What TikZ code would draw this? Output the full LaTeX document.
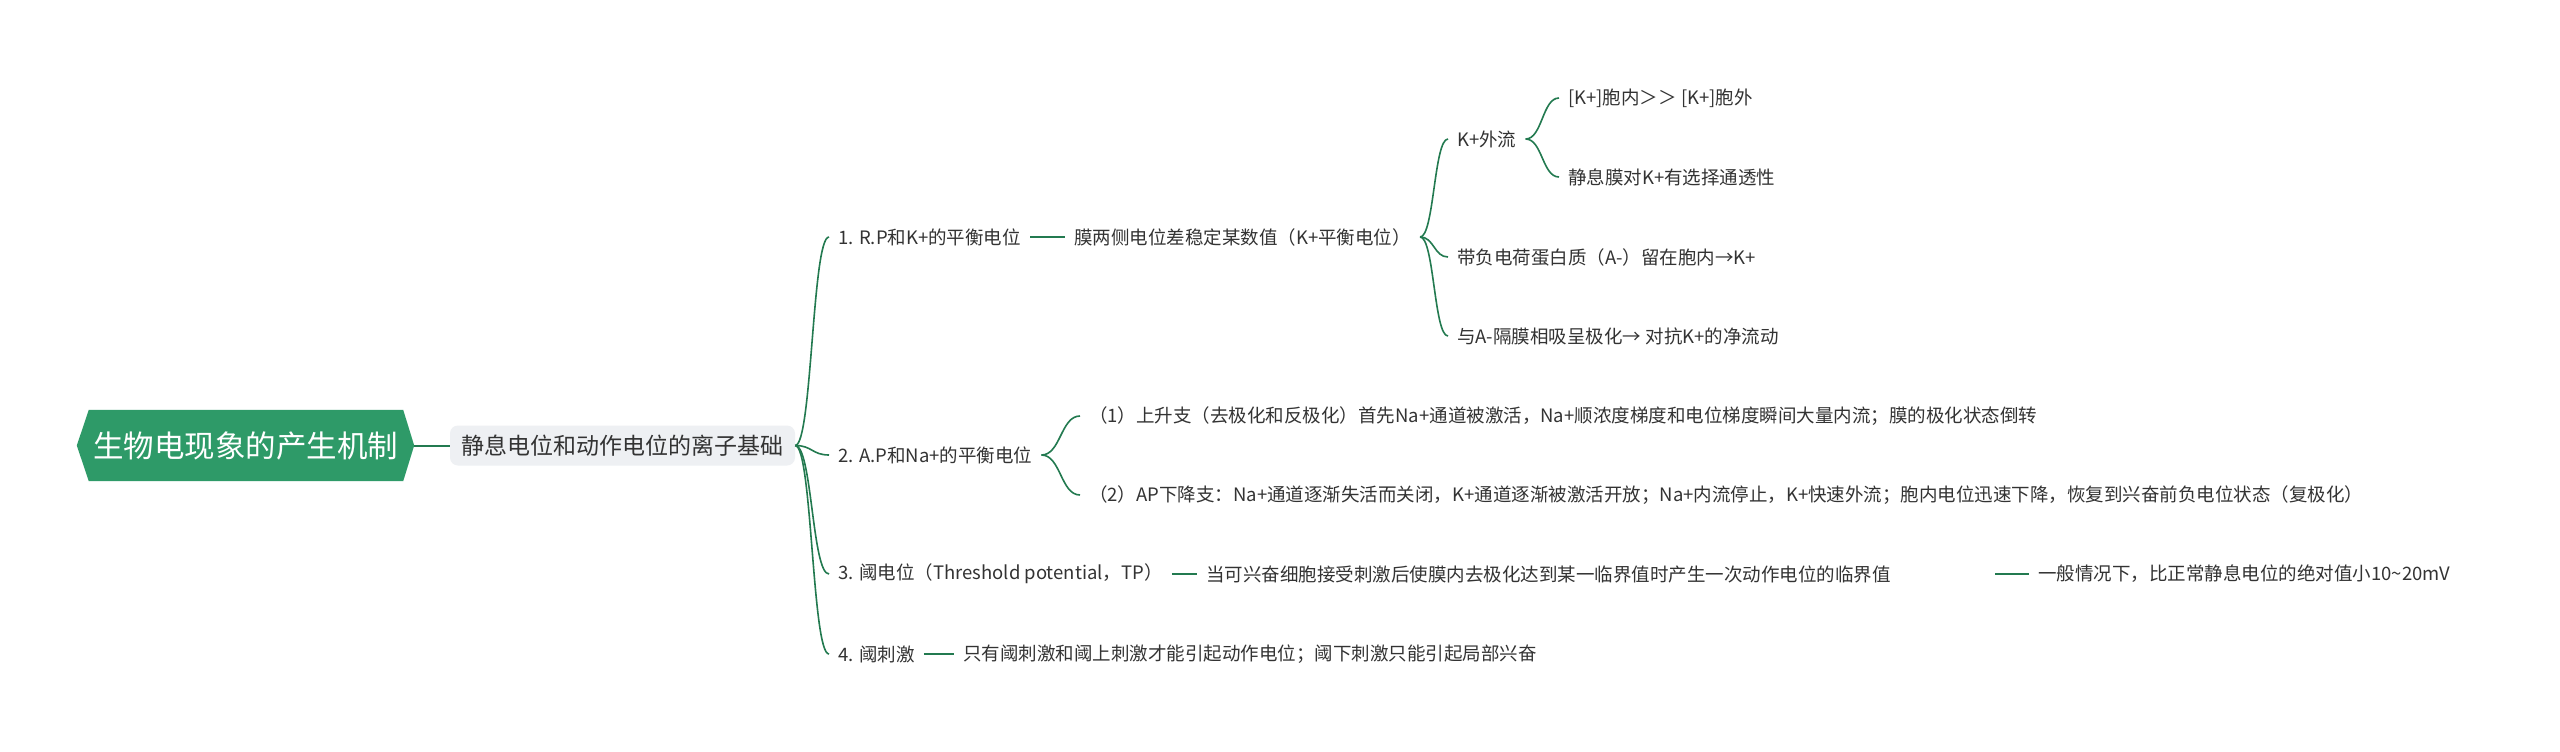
\documentclass[tikz,border=0pt]{standalone}
\usepackage{fontspec}
\newfontfamily\cjk{Noto Sans CJK SC}
\usetikzlibrary{calc,backgrounds}
\definecolor{rootg}{HTML}{2E9A68}
\definecolor{lineg}{HTML}{237A50}
\definecolor{subbg}{HTML}{EEF0F3}
\definecolor{txt}{HTML}{333333}
\newcommand\bcurve[2]{\draw[conn] let \p1=(#1), \p2=(#2) in (\p1) .. controls (0.5*\x1+0.5*\x2,\y1) and (0.5*\x1+0.5*\x2,\y2) .. (\p2);}
\begin{document}
\begin{tikzpicture}[x=1pt,y=-1pt,
  conn/.style={draw=lineg, line width=1.6pt},
  leaf/.style={font=\cjk\fontsize{18.5}{22}\selectfont, text=txt, anchor=west, inner xsep=9pt, inner ysep=2pt},
]
\useasboundingbox (0,0) rectangle (2560,752);

% root
\node[font=\cjk\fontsize{30.5}{36}\selectfont, text=white, minimum width=337pt, minimum height=71pt, inner sep=0pt] (root) at (245.5,445.5) {生物电现象的产生机制};
\begin{pgfonlayer}{background}
\fill[white] (0,0) rectangle (2560,752);
\fill[rootg] (root.west) -- ([xshift=12pt]root.north west) -- ([xshift=-11pt]root.north east) -- (root.east) -- ([xshift=-11pt]root.south east) -- ([xshift=12pt]root.south west) -- cycle;
\end{pgfonlayer}

% sub
\node[fill=subbg, rounded corners=8pt, minimum width=345pt, minimum height=40pt, inner sep=0pt, font=\cjk\fontsize{23}{28}\selectfont, text=txt] (sub) at (622.5,445.5) {静息电位和动作电位的离子基础};
\draw[conn, line width=2pt] (root.east) -- (sub.west);

% level 1
\node[leaf] (n1) at (829,237) {1. R.P和K+的平衡电位};
\node[leaf] (n2) at (829,455) {2. A.P和Na+的平衡电位};
\node[leaf] (n3) at (829,574) {3. 阈电位（Threshold potential，TP）};
\node[leaf] (n4) at (829,654) {4. 阈刺激};
\bcurve{sub.east}{n1.west}
\bcurve{sub.east}{n2.west}
\bcurve{sub.east}{n3.west}
\bcurve{sub.east}{n4.west}

% branch 1
\node[leaf] (n1a) at (1065,237) {膜两侧电位差稳定某数值（K+平衡电位）};
\draw[conn] (n1.east) -- (n1a.west);
\node[leaf] (n1a1) at (1448,139) {K+外流};
\node[leaf] (n1a2) at (1448,257) {带负电荷蛋白质（A-）留在胞内→K+};
\node[leaf] (n1a3) at (1448,336) {与A-隔膜相吸呈极化→ 对抗K+的净流动};
\bcurve{n1a.east}{n1a1.west}
\bcurve{n1a.east}{n1a2.west}
\bcurve{n1a.east}{n1a3.west}
\node[leaf] (n1a1a) at (1559,98) {[K+]胞内＞＞ [K+]胞外};
\node[leaf] (n1a1b) at (1559,177) {静息膜对K+有选择通透性};
\bcurve{n1a1.east}{n1a1a.west}
\bcurve{n1a1.east}{n1a1b.west}

% branch 2
\node[leaf] (n2a) at (1080,416) {（1）上升支（去极化和反极化）首先Na+通道被激活，Na+顺浓度梯度和电位梯度瞬间大量内流；膜的极化状态倒转};
\node[leaf] (n2b) at (1080,495) {（2）AP下降支：Na+通道逐渐失活而关闭，K+通道逐渐被激活开放；Na+内流停止，K+快速外流；胞内电位迅速下降，恢复到兴奋前负电位状态（复极化）};
\bcurve{n2.east}{n2a.west}
\bcurve{n2.east}{n2b.west}

% branch 3
\node[leaf, text width=780pt, align=left] (n3a) at (1197,574) {当可兴奋细胞接受刺激后使膜内去极化达到某一临界值时产生一次动作电位的临界值};
\draw[conn] (n3.east) -- (n3a.west);
\node[leaf] (n3b) at (2029,574) {一般情况下，比正常静息电位的绝对值小10\textasciitilde 20mV};
\draw[conn] (n3a.east) -- (n3b.west);

% branch 4
\node[leaf] (n4a) at (954,654) {只有阈刺激和阈上刺激才能引起动作电位；阈下刺激只能引起局部兴奋};
\draw[conn] (n4.east) -- (n4a.west);
\end{tikzpicture}
\end{document}
